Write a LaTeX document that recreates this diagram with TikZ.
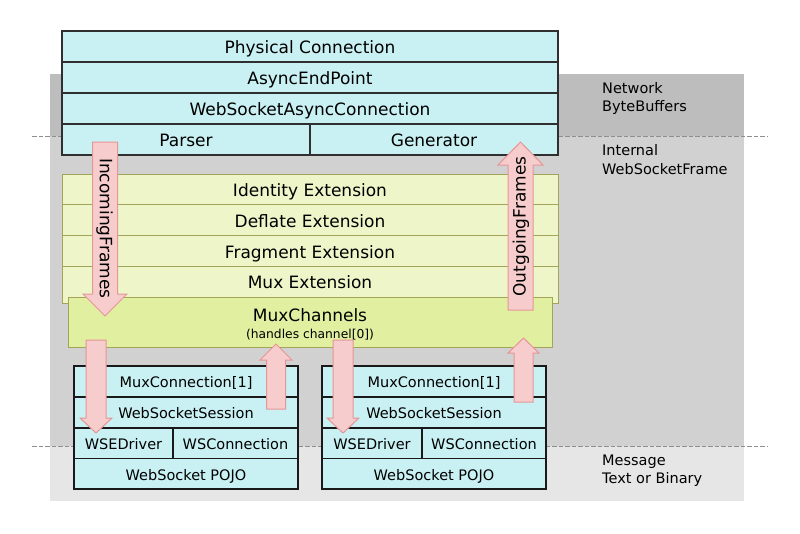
\documentclass[tikz,border=0pt]{standalone}
\usepackage{fontspec}
\setmainfont{DejaVu Sans}
\definecolor{bandnet}{HTML}{BDBDBD}
\definecolor{bandint}{HTML}{D1D1D1}
\definecolor{bandmsg}{HTML}{E6E6E6}
\definecolor{cyanfill}{HTML}{C9F1F3}
\definecolor{cyanline}{HTML}{2F2F2F}
\definecolor{extfill}{HTML}{EEF5C9}
\definecolor{muxfill}{HTML}{E1EFA1}
\definecolor{oliveline}{HTML}{A3A35A}
\definecolor{pinkfill}{HTML}{F6CCCC}
\definecolor{pinkline}{HTML}{E79696}
\definecolor{sepline}{HTML}{8E8E8E}
\newcommand\blockarrow[6]{% x, tail, head base, tip, shaft half width, head half width
  \draw[framearrow] ({#1-#5},#2) -- ({#1+#5},#2) -- ({#1+#5},#3) -- ({#1+#6},#3)
    -- (#1,#4) -- ({#1-#6},#3) -- ({#1-#5},#3) -- cycle;}
\begin{document}
\begin{tikzpicture}[x=1pt,y=-1pt,
  cell/.style={inner sep=0pt, text depth=0pt},
  bigtext/.style={font=\fontsize{17}{20}\selectfont, text height=14.4pt},
  smalltext/.style={font=\fontsize{14.5}{18}\selectfont, text height=12.6pt},
  subtext/.style={font=\fontsize{12.3}{14}\selectfont, text height=11pt},
  labeltext/.style={font=\fontsize{14.5}{18}\selectfont, anchor=base west, inner sep=0pt},
  layerbox/.style={cell, bigtext, draw=cyanline, fill=cyanfill, line width=1.4pt, minimum height=31},
  extbox/.style={cell, bigtext, draw=oliveline, fill=extfill, line width=1pt, minimum width=496},
  muxbox/.style={cell, draw=oliveline, fill=muxfill, line width=1pt},
  sessbox/.style={cell, smalltext, draw=black!90, fill=cyanfill, line width=1.4pt},
  framearrow/.style={draw=pinkline, fill=pinkfill, line width=1pt, line join=miter},
  arrowtext/.style={cell, bigtext},
  separator/.style={draw=sepline, line width=0.9pt, dash pattern=on 4.5pt off 2pt}
]
\useasboundingbox[fill=white] (0,0) rectangle (800,533);

% layer bands
\fill[bandnet] (50,74) rectangle (744,136);
\fill[bandint] (50,136) rectangle (744,446);
\fill[bandmsg] (50,446) rectangle (744,501);
\coordinate (sepAl) at (32,136);
\coordinate (sepAr) at (768,136);
\coordinate (sepBl) at (32,446);
\coordinate (sepBr) at (768,446);
\draw[separator] (sepAl) -- (sepAr);
\draw[separator] (sepBl) -- (sepBr);

% layer labels
\node[labeltext] (netA) at (602,93.3) {Network};
\node[labeltext] (netB) at (602,111.7) {ByteBuffers};
\node[labeltext] (intA) at (602,155.7) {Internal};
\node[labeltext] (intB) at (602,174) {WebSocketFrame};
\node[labeltext] (msgA) at (602,465) {Message};
\node[labeltext] (msgB) at (602,483.3) {Text or Binary};

% connection stack
\node[layerbox, minimum width=496] (phys) at (310,46.5) {Physical Connection};
\node[layerbox, minimum width=496] (endpoint) at (310,77.5) {AsyncEndPoint};
\node[layerbox, minimum width=496] (wsconn) at (310,108.5) {WebSocketAsyncConnection};
\node[layerbox, minimum width=248] (parser) at (186,139.5) {Parser};
\node[layerbox, minimum width=248] (generator) at (434,139.5) {Generator};

% extension stack
\node[extbox, minimum height=30.5] (identity) at (310,189.25) {Identity Extension};
\node[extbox, minimum height=31] (deflate) at (310,220) {Deflate Extension};
\node[extbox, minimum height=31] (fragment) at (310,251) {Fragment Extension};
\node[extbox, minimum height=36.5] (muxext) at (310,284.75) {};
\node[arrowtext] (muxextlbl) at (310,281.5) {Mux Extension};
\node[muxbox, minimum width=484, minimum height=50] (muxchan) at (310,322) {};
\node[arrowtext] (muxchanlbl) at (310,314) {MuxChannels};
\node[cell, subtext] (muxchansub) at (310,332.8) {(handles channel[0])};

% per-channel stacks
\node[sessbox, minimum width=224, minimum height=31] (muxL) at (186,381.5) {MuxConnection[1]};
\node[sessbox, minimum width=224, minimum height=31] (sessL) at (186,412.5) {WebSocketSession};
\node[sessbox, minimum width=99, minimum height=30.5] (driverL) at (123.5,443.25) {WSEDriver};
\node[sessbox, minimum width=125, minimum height=30.5] (connL) at (235.5,443.25) {WSConnection};
\node[sessbox, minimum width=224, minimum height=30.5] (pojoL) at (186,473.75) {WebSocket POJO};

\node[sessbox, minimum width=224, minimum height=31] (muxR) at (434,381.5) {MuxConnection[1]};
\node[sessbox, minimum width=224, minimum height=31] (sessR) at (434,412.5) {WebSocketSession};
\node[sessbox, minimum width=100, minimum height=30.5] (driverR) at (372,443.25) {WSEDriver};
\node[sessbox, minimum width=124, minimum height=30.5] (connR) at (484,443.25) {WSConnection};
\node[sessbox, minimum width=224, minimum height=30.5] (pojoR) at (434,473.75) {WebSocket POJO};

% frame flow arrows
\blockarrow{105}{142}{294}{316}{12.5}{22}
\node[arrowtext, rotate=-90] (incoming) at (107,228.3) {IncomingFrames};
\blockarrow{520.5}{310}{165}{142}{12.5}{22.5}
\node[arrowtext, rotate=90] (outgoing) at (518.5,226.5) {OutgoingFrames};

\blockarrow{96}{340}{418}{433}{10}{16}
\blockarrow{276}{409}{360}{344}{9.5}{16}
\blockarrow{343}{340}{418}{433}{10}{16}
\blockarrow{523.5}{402}{353}{338}{9.5}{15.5}
\end{tikzpicture}
\end{document}
